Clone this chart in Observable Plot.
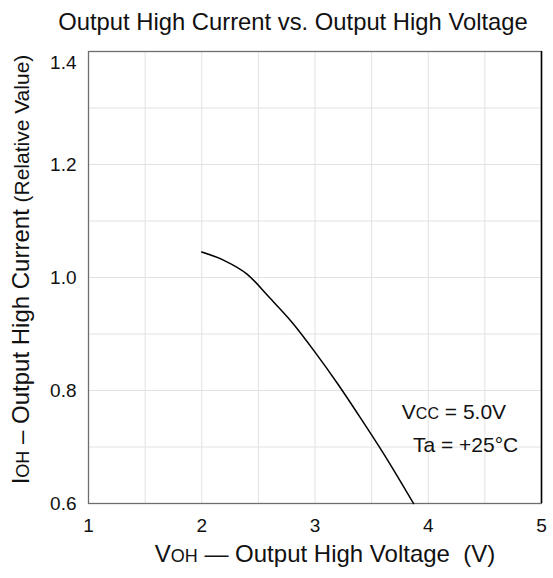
<!DOCTYPE html>
<html>
<head>
<meta charset="utf-8">
<script src="https://cdn.jsdelivr.net/npm/d3@7"></script>
<script src="https://cdn.jsdelivr.net/npm/@observablehq/plot@0.6"></script>
<style>
  html, body { margin: 0; padding: 0; background: #fff; }
  svg { display: block; }
</style>
</head>
<body>
<div id="chart"></div>
<script>
// Data
const voh = [2.0, 2.2, 2.4, 2.6, 2.8, 3.0, 3.2, 3.4, 3.6, 3.87];
const ioh = [1.045, 1.030, 1.006, 0.964, 0.920, 0.868, 0.812, 0.752, 0.690, 0.6];
const xTicks = [1, 2, 3, 4, 5];
const yTicksLow = [0.6, 0.8, 1.0, 1.2];
const yTickTop = [1.4];
const xGrid = [1.5, 2, 2.5, 3, 3.5, 4, 4.5];
const yGrid = [0.7, 0.8, 0.9, 1.0, 1.1, 1.2, 1.3];
const titleText = "Output High Current vs. Output High Voltage";
const xLabelText = "VOH — Output High Voltage  (V)";
const yLabelText = "IOH – Output High Current (Relative Value)";
const note1 = "VCC = 5.0V";
const note2 = "Ta = +25°C";
const noteX1 = 4.227;
const noteX2 = 4.33;
const noteY1 = 0.761;
const noteY2 = 0.703;

const data = voh.map((v, i) => ({v, i: ioh[i]}));
const font = "Liberation Sans, Arial, Helvetica, sans-serif";

const plot = Plot.plot({
  width: 553,
  height: 578,
  marginLeft: 88,
  marginRight: 12,
  marginTop: 51,
  marginBottom: 75,
  style: {fontFamily: font, fontSize: "19px", color: "#111", background: "#fff"},
  x: {domain: [1, 5]},
  y: {domain: [0.6, 1.4]},
  marks: [
    Plot.gridX(xGrid, {stroke: "#e2e2e2", strokeOpacity: 1}),
    Plot.gridY(yGrid, {stroke: "#e2e2e2", strokeOpacity: 1}),
    Plot.frame({stroke: "#6e6e6e", strokeWidth: 1.3}),
    Plot.ruleX([5], {stroke: "#000", strokeWidth: 1.5}),
    Plot.axisX(xTicks, {tickSize: 0, tickPadding: 15, label: null, fontSize: 19, tickFormat: d => String(d)}),
    Plot.axisY(yTicksLow, {tickSize: 0, tickPadding: 12, label: null, fontSize: 19, tickFormat: d3.format(".1f")}),
    Plot.axisY(yTickTop, {tickSize: 0, tickPadding: 12, label: null, fontSize: 19, dy: 11, tickFormat: d3.format(".1f")}),
    Plot.line(data, {x: "v", y: "i", curve: "monotone-x", stroke: "#000", strokeWidth: 1.5}),
    Plot.text([note1], {x: noteX1, y: noteY1, text: d => d, fontSize: 21, textAnchor: "middle"}),
    Plot.text([note2], {x: noteX2, y: noteY2, text: d => d, fontSize: 21, textAnchor: "middle"}),
    Plot.text([titleText], {frameAnchor: "top", text: d => d, fontSize: 23.8, dy: -29, dx: -22, lineAnchor: "middle"}),
    Plot.text([xLabelText], {frameAnchor: "bottom", text: d => d, fontSize: 24, dy: 51, dx: 10, lineAnchor: "middle"}),
    Plot.text([yLabelText], {frameAnchor: "left", text: d => d, fontSize: 24, rotate: -90, textAnchor: "middle", dx: -67, dy: -8, lineAnchor: "middle"})
  ]
});

// small-cap style subscripts as real text tspans
const svg = d3.select(plot);
svg.selectAll("text").each(function() {
  const t = this.textContent;
  const el = d3.select(this);
  if (t === xLabelText) {
    el.text(null);
    el.append("tspan").text("V");
    el.append("tspan").attr("font-size", "18px").text("OH");
    el.append("tspan").text(" — Output High Voltage  (V)");
  } else if (t === yLabelText) {
    el.text(null);
    el.append("tspan").text("I");
    el.append("tspan").attr("font-size", "18px").text("OH");
    el.append("tspan").text(" – Output High Current ");
    el.append("tspan").attr("font-size", "21px").text("(Relative Value)");
  } else if (t === note1) {
    el.text(null);
    el.append("tspan").text("V");
    el.append("tspan").attr("font-size", "16px").text("CC");
    el.append("tspan").text(" = 5.0V");
  }
});

document.getElementById("chart").appendChild(plot);
</script>
</body>
</html>
